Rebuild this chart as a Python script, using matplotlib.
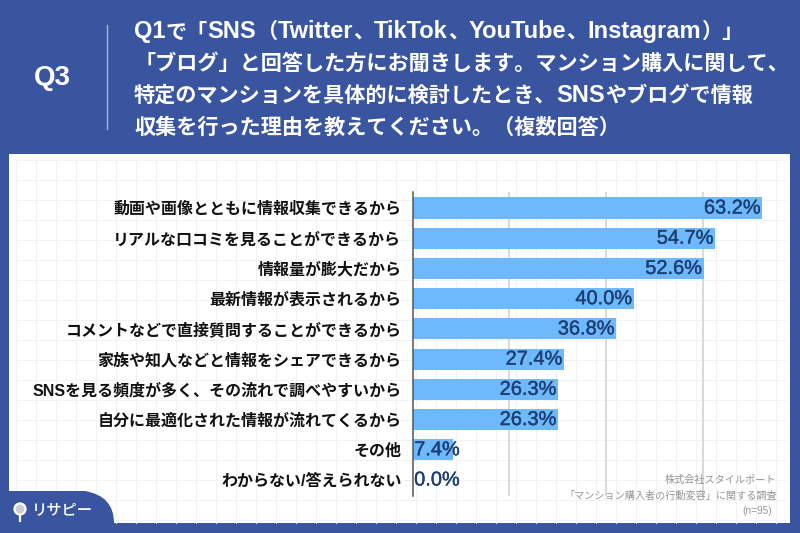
"""Q3 horizontal bar chart: reasons for using SNS / blogs when researching a condo."""
import re

import matplotlib
matplotlib.use("Agg")
import matplotlib.pyplot as plt
import matplotlib.patheffects as pe
from matplotlib.patches import Circle, PathPatch, Rectangle
from matplotlib.path import Path as MPath

JP = "Noto Sans CJK JP"
MIXED = ["Liberation Sans", JP]  # latin from Liberation, kana/kanji fall back to Noto
BLUE = "#3A55A0"
BAR = "#6DB9FB"
NAVY = "#1C3E72"

categories = [
    "動画や画像とともに情報収集できるから",
    "リアルな口コミを見ることができるから",
    "情報量が膨大だから",
    "最新情報が表示されるから",
    "コメントなどで直接質問することができるから",
    "家族や知人などと情報をシェアできるから",
    "SNSを見る頻度が多く、その流れで調べやすいから",
    "自分に最適化された情報が流れてくるから",
    "その他",
    "わからない/答えられない",
]
values = [63.2, 54.7, 52.6, 40.0, 36.8, 27.4, 26.3, 26.3, 7.4, 0.0]
grid_ticks = [17.5, 35.0, 52.5]

title_lines = [
    "Q1で「SNS（Twitter、TikTok、YouTube、Instagram）」",
    "「ブログ」と回答した方にお聞きします。マンション購入に関して、",
    "特定のマンションを具体的に検討したとき、SNSやブログで情報",
    "収集を行った理由を教えてください。（複数回答）",
]
source_lines = ["株式会社スタイルポート", "「マンション購入者の行動変容」に関する調査", "(n=95)"]

fig = plt.figure(figsize=(8.0, 5.33), dpi=100, facecolor=BLUE)
renderer = fig.canvas.get_renderer()

# full-figure layer in pixel coordinates for the frame and header
bg = fig.add_axes([0, 0, 1, 1], zorder=0)
bg.set_xlim(0, 800)
bg.set_ylim(533, 0)
bg.axis("off")

bg.add_patch(Rectangle((9, 154), 781, 369, fc="white", ec="none"))
for x in range(16, 790, 20):
    bg.plot([x, x], [160, 523], color="#F1F2F4", lw=0.7, zorder=1)
for y in range(160, 523, 20):
    bg.plot([16, 785], [y, y], color="#F1F2F4", lw=0.7, zorder=1)

# logo tab in the bottom-left corner
tab = MPath(
    [(9, 491), (85, 491), (114, 496), (114, 523), (114, 530), (9, 530), (9, 491)],
    [MPath.MOVETO, MPath.LINETO, MPath.CURVE3, MPath.CURVE3, MPath.LINETO, MPath.LINETO, MPath.CLOSEPOLY],
)
bg.add_patch(PathPatch(tab, fc=BLUE, ec="none", zorder=2))
bg.add_patch(Circle((20, 509), 5.5, fc="#C9CDD6", ec="white", lw=1.6, zorder=3))
bg.plot([20, 20], [515, 521], color="white", lw=1.6, zorder=3)
bg.text(32, 510, "リサピー", color="white", fontsize=11, family=JP, weight="medium",
        va="center", ha="left", zorder=3)


def title_runs(x, baseline, line):
    # the latin in the header is set visibly larger than the kana, so draw it run by run
    for run in re.findall(r"[A-Za-z0-9]+|[^A-Za-z0-9]+", line):
        latin = run[0].isascii()
        t = bg.text(x, baseline, run, color="white", weight="bold", va="baseline", ha="left",
                    family="Liberation Sans" if latin else JP, fontsize=17.0 if latin else 15.2)
        x += t.get_window_extent(renderer).width


# header
bg.text(52.5, 78, "Q3", color="white", fontsize=20, family="Liberation Sans", weight="bold",
        va="center", ha="center")
bg.plot([107, 107], [25, 129], color="#A9B5D6", lw=1)
title_baselines = [38, 70, 102, 134]
for line, y in zip(title_lines, title_baselines):
    title_runs(134, y, line)

# chart
ax = fig.add_axes([412.5 / 800, 1 - 495.7 / 533, 387.5 / 800, 303.7 / 533], zorder=2)
ax.patch.set_alpha(0)
ypos = list(range(len(categories)))
ax.barh(ypos, values, height=0.7, color=BAR, zorder=2)
ax.set_xlim(0, 70)
ax.set_ylim(9.52, -0.53)
ax.set_xticks(grid_ticks)
ax.set_xticklabels([])
ax.grid(axis="x", color="#CFCFCF", lw=1.1, zorder=1)
ax.tick_params(length=0)
ax.set_yticks(ypos)
ax.set_yticklabels(categories, family=MIXED, weight="bold", fontsize=11.5, color="#111111")
ax.tick_params(axis="y", pad=8)
for side in ("top", "right", "bottom"):
    ax.spines[side].set_visible(False)
ax.spines["left"].set_color("#555555")
ax.spines["left"].set_linewidth(1.1)

medium = [pe.withStroke(linewidth=0.25, foreground=NAVY)]
for y, v in zip(ypos, values):
    # small bars carry the label starting at the axis, the rest end-align inside the bar
    if v < 10:
        ax.text(0.3, y, f"{v:.1f}%", color=NAVY, fontsize=14.4, family="Liberation Sans",
                va="center", ha="left", zorder=3, path_effects=medium)
    else:
        ax.text(v - 0.3, y, f"{v:.1f}%", color=NAVY, fontsize=14.4, family="Liberation Sans",
                va="center", ha="right", zorder=3, path_effects=medium)

# source note
bg_note = fig.add_axes([0, 0, 1, 1], zorder=3)
bg_note.set_xlim(0, 800)
bg_note.set_ylim(533, 0)
bg_note.axis("off")
source_x = [776, 777, 772]
source_y = [480, 496, 511]
for line, x, y in zip(source_lines, source_x, source_y):
    bg_note.text(x, y, line, color="#959595", fontsize=7.3, family=MIXED, va="center", ha="right")

fig.savefig("out.png", dpi=100, facecolor=BLUE)
